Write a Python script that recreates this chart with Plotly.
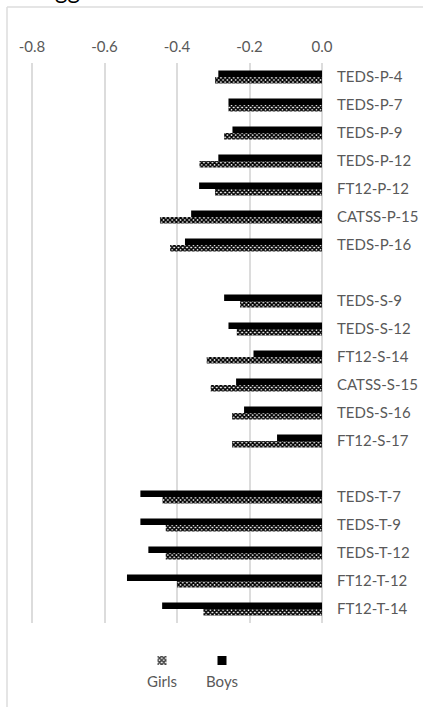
import plotly.graph_objects as go

# Cohort / measure labels, top to bottom; blank entries separate the P, S and T groups
categories = [
    "TEDS-P-4", "TEDS-P-7", "TEDS-P-9", "TEDS-P-12", "FT12-P-12", "CATSS-P-15", "TEDS-P-16",
    " ",
    "TEDS-S-9", "TEDS-S-12", "FT12-S-14", "CATSS-S-15", "TEDS-S-16", "FT12-S-17",
    "  ",
    "TEDS-T-7", "TEDS-T-9", "TEDS-T-12", "FT12-T-12", "FT12-T-14",
]
boys = [
    -0.286, -0.258, -0.247, -0.286, -0.339, -0.361, -0.378,
    None,
    -0.270, -0.258, -0.189, -0.237, -0.215, -0.124,
    None,
    -0.501, -0.501, -0.479, -0.538, -0.441,
]
girls = [
    -0.295, -0.258, -0.270, -0.338, -0.295, -0.447, -0.419,
    None,
    -0.226, -0.235, -0.318, -0.307, -0.248, -0.248,
    None,
    -0.440, -0.431, -0.431, -0.400, -0.327,
]
x_ticks = [-0.8, -0.6, -0.4, -0.2, 0.0]
x_tick_text = ["-0.8", "-0.6", "-0.4", "-0.2", "0.0"]
legend_names = ["Girls", "Boys"]

W, H = 423, 707
M_L, M_R, M_T, M_B = 30, 101, 63, 20
PLOT_H = H - M_T - M_B
PLOT_W = W - M_L - M_R
# small pad on the left so the -0.8 gridline is not lost on the plot edge
X_MIN = -0.8 * PLOT_W / 290.0


def px_x(px):
    return (px - M_L) / PLOT_W


def px_y(py):
    return (H - M_B - py) / PLOT_H


FONT = "Lato, 'Open Sans', sans-serif"
GREY_TXT = "#595959"
GRID = "#dcdcdc"
CHECK = dict(shape="x", size=3, solidity=0.75, fgcolor="#000000",
             bgcolor="#ffffff", fgopacity=1)

fig = go.Figure()

fig.add_trace(go.Bar(
    name="Boys", y=categories, x=boys, orientation="h",
    marker=dict(color="#000000", line=dict(width=0)),
    showlegend=False, hoverinfo="x+y",
))
fig.add_trace(go.Bar(
    name="Girls", y=categories, x=girls, orientation="h",
    marker=dict(color="#ffffff", line=dict(width=0), pattern=CHECK),
    showlegend=False, hoverinfo="x+y",
))

# Key drawn as its own small subplot: swatch above each name
fig.add_trace(go.Bar(
    x=legend_names, y=[1, 1], width=0.15, xaxis="x2", yaxis="y2",
    marker=dict(
        color=["#ffffff", "#000000"], line=dict(width=0),
        pattern=dict(shape=["x", ""], size=3, solidity=0.75, fgopacity=1,
                     fgcolor="#000000", bgcolor=["#ffffff", "#000000"]),
    ),
    showlegend=False, hoverinfo="skip",
))

fig.update_layout(
    width=W, height=H,
    margin=dict(l=M_L, r=M_R, t=M_T, b=M_B, pad=0, autoexpand=False),
    paper_bgcolor="#ffffff", plot_bgcolor="#ffffff",
    barmode="group", bargap=0.53, bargroupgap=0,
    font=dict(family=FONT, size=15, color=GREY_TXT),
    xaxis=dict(
        range=[X_MIN, 0.0], side="top", tickvals=x_ticks, ticktext=x_tick_text,
        showgrid=True, gridcolor=GRID, gridwidth=2,
        zeroline=True, zerolinecolor=GRID, zerolinewidth=2,
        showline=False, ticks="", ticklabelstandoff=7, automargin=False,
        tickfont=dict(family=FONT, size=15, color=GREY_TXT),
        anchor="y",
    ),
    yaxis=dict(
        domain=[px_y(623), 1.0], categoryorder="array", categoryarray=categories,
        autorange="reversed", side="right", showgrid=False, zeroline=False,
        showline=False, ticks="", ticklabelstandoff=14, automargin=False,
        tickfont=dict(family=FONT, size=15, color=GREY_TXT),
        anchor="x",
    ),
    xaxis2=dict(
        domain=[px_x(132), px_x(252)], anchor="y2", categoryorder="array",
        categoryarray=legend_names, showgrid=False, zeroline=False, showline=False,
        ticks="", ticklabelstandoff=6, automargin=False,
        tickfont=dict(family=FONT, size=15, color=GREY_TXT),
    ),
    yaxis2=dict(
        domain=[px_y(665), px_y(656)], anchor="x2", range=[0, 1],
        showgrid=False, zeroline=False, showline=False, showticklabels=False,
    ),
    shapes=[
        dict(type="line", xref="paper", yref="paper",
             x0=px_x(7), x1=px_x(W + 5), y0=px_y(7), y1=px_y(7),
             line=dict(color=GRID, width=1.5)),
        dict(type="line", xref="paper", yref="paper",
             x0=px_x(7), x1=px_x(7), y0=px_y(7), y1=px_y(H + 5),
             line=dict(color=GRID, width=1.5)),
    ],
    annotations=[
        dict(text="gg", xref="paper", yref="paper", x=px_x(53), y=px_y(6),
             xanchor="left", yanchor="bottom", showarrow=False,
             font=dict(family=FONT, size=24, color="#000000")),
    ],
)

fig.write_html("out.html")
